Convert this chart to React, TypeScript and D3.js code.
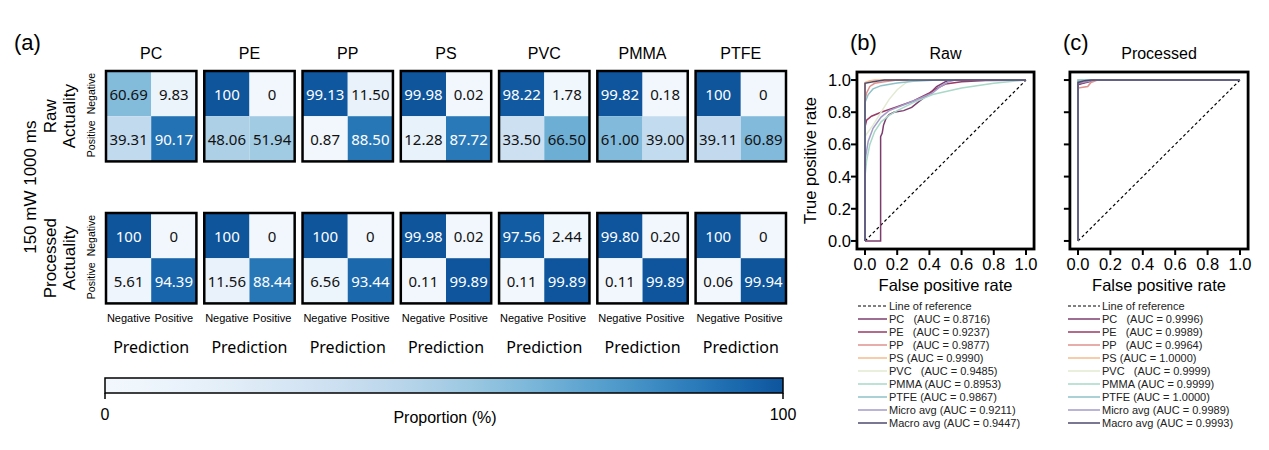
import React, { useEffect } from 'react';
import * as d3 from 'd3';

const materials = ['PC', 'PE', 'PP', 'PS', 'PVC', 'PMMA', 'PTFE'];
const classLabels = ['Negative', 'Positive'];

// confusion matrix cells: [TL, TR, BL, BR]
const rawCells = [
  ['60.69', '9.83', '39.31', '90.17'],
  ['100', '0', '48.06', '51.94'],
  ['99.13', '11.50', '0.87', '88.50'],
  ['99.98', '0.02', '12.28', '87.72'],
  ['98.22', '1.78', '33.50', '66.50'],
  ['99.82', '0.18', '61.00', '39.00'],
  ['100', '0', '39.11', '60.89'],
];
const processedCells = [
  ['100', '0', '5.61', '94.39'],
  ['100', '0', '11.56', '88.44'],
  ['100', '0', '6.56', '93.44'],
  ['99.98', '0.02', '0.11', '99.89'],
  ['97.56', '2.44', '0.11', '99.89'],
  ['99.80', '0.20', '0.11', '99.89'],
  ['100', '0', '0.06', '99.94'],
];
const colorbarTicks = [0, 100];

const legendNames = ['PC   ', 'PE   ', 'PP   ', 'PS ', 'PVC   ', 'PMMA ', 'PTFE ', 'Micro avg ', 'Macro avg '];
const rawAuc = ['0.8716', '0.9237', '0.9877', '0.9990', '0.9485', '0.8953', '0.9867', '0.9211', '0.9447'];
const processedAuc = ['0.9996', '0.9989', '0.9964', '1.0000', '0.9999', '0.9999', '1.0000', '0.9989', '0.9993'];
const curveColors = ['#7d3c6e', '#9a3a66', '#df928e', '#f6ba8e', '#e2ead2', '#a8d8c8', '#8fc2c9', '#a39cc9', '#4d4a6c'];
const rocTicks = [0, 0.2, 0.4, 0.6, 0.8, 1.0];

// ROC curves as [fpr, tpr]
const rawRoc: [number, number][][] = [
  [[0, 0], [0.097, 0], [0.097, 0.648], [0.107, 0.67], [0.115, 0.72], [0.13, 0.76], [0.15, 0.785], [0.18, 0.8], [0.24, 0.81], [0.29, 0.83], [0.34, 0.87], [0.4, 0.915], [0.445, 0.96], [0.5, 0.99], [0.53, 1], [1, 1]],
  [[0, 0], [0, 0.71], [0.01, 0.75], [0.04, 0.775], [0.1, 0.8], [0.2, 0.835], [0.3, 0.87], [0.4, 0.92], [0.45, 0.95], [0.5, 0.975], [0.6, 0.99], [0.75, 0.997], [1, 1]],
  [[0, 0], [0, 0.87], [0.01, 0.92], [0.03, 0.96], [0.06, 0.98], [0.12, 0.99], [0.2, 1], [1, 1]],
  [[0, 0], [0, 0.985], [0.03, 0.995], [0.06, 1], [1, 1]],
  [[0, 0], [0, 0.65], [0.05, 0.72], [0.1, 0.8], [0.15, 0.88], [0.2, 0.94], [0.25, 0.98], [0.28, 1], [1, 1]],
  [[0, 0], [0, 0.4], [0.01, 0.5], [0.03, 0.6], [0.06, 0.68], [0.1, 0.74], [0.15, 0.78], [0.2, 0.81], [0.3, 0.86], [0.42, 0.91], [0.6, 0.95], [0.8, 0.98], [1, 1]],
  [[0, 0], [0, 0.86], [0.02, 0.91], [0.05, 0.945], [0.1, 0.965], [0.2, 0.982], [0.3, 0.992], [0.45, 1], [1, 1]],
  [[0, 0], [0, 0.5], [0.02, 0.62], [0.05, 0.7], [0.1, 0.77], [0.15, 0.81], [0.25, 0.85], [0.35, 0.89], [0.42, 0.92], [0.47, 0.96], [0.52, 0.99], [0.56, 1], [1, 1]],
  [[0, 0], [0, 0.98], [0.05, 0.99], [0.12, 1], [1, 1]],
];
const processedRoc: [number, number][][] = [
  [[0, 0], [0, 0.97], [0.03, 0.98], [0.07, 0.99], [0.1, 1], [1, 1]],
  [[0, 0], [0, 0.975], [0.04, 0.985], [0.08, 1], [1, 1]],
  [[0, 0], [0, 0.95], [0.03, 0.955], [0.06, 0.96], [0.08, 0.985], [0.12, 1], [1, 1]],
  [[0, 0], [0, 1], [1, 1]],
  [[0, 0], [0, 0.99], [0.02, 1], [1, 1]],
  [[0, 0], [0, 0.99], [0.02, 1], [1, 1]],
  [[0, 0], [0, 1], [1, 1]],
  [[0, 0], [0, 0.98], [0.05, 0.99], [0.1, 1], [1, 1]],
  [[0, 0], [0, 0.985], [0.04, 0.995], [0.08, 1], [1, 1]],
];

const ARIAL = '"Liberation Sans", Arial, sans-serif';
const NOTO = '"Noto Sans", "Open Sans", sans-serif';

const color = d3
  .scaleSequential((t: number) => d3.interpolateBlues(0.03 + 0.83 * Math.pow(t, 1.4)))
  .domain([0, 100]);

const xBand = d3.scaleBand<string>().domain(materials).range([106, 786]).paddingInner(0.08);
const matSize = xBand.bandwidth();
const cellBand = d3.scaleBand<number>().domain([0, 1]).range([0, matSize]);
const rowTops = [71, 213];

const Matrix: React.FC<{ x: number; y: number; cells: string[] }> = ({ x, y, cells }) => (
  <g transform={`translate(${x},${y})`}>
    {cells.map((v, i) => {
      const r = Math.floor(i / 2);
      const c = i % 2;
      const val = +v;
      return (
        <g key={i}>
          <rect
            x={cellBand(c)}
            y={cellBand(r)}
            width={cellBand.bandwidth()}
            height={cellBand.bandwidth()}
            fill={color(val)}
          />
          <text
            x={(cellBand(c) || 0) + cellBand.bandwidth() / 2}
            y={(cellBand(r) || 0) + cellBand.bandwidth() / 2}
            textAnchor="middle"
            dominantBaseline="central"
            fontFamily={NOTO}
            fontSize={15}
            fill={val > 75 ? '#ffffff' : '#111111'}
          >
            {v}
          </text>
        </g>
      );
    })}
    <rect x={0} y={0} width={matSize} height={matSize} fill="none" stroke="#000" strokeWidth={2.5} />
  </g>
);

const RocPanel: React.FC<{
  x0: number;
  x1: number;
  curves: [number, number][][];
  auc: string[];
  title: string;
  tag: string;
  yLabels: boolean;
  legendLine: [number, number];
}> = ({ x0, x1, curves, auc, title, tag, yLabels, legendLine }) => {
  const unit = x1 - x0;
  const x = d3.scaleLinear().domain([-0.05, 1.05]).range([x0 - 0.05 * unit, x1 + 0.05 * unit]);
  const y = d3.scaleLinear().domain([-0.05, 1.05]).range([249, 72]);
  const line = d3
    .line<[number, number]>()
    .x((d) => x(d[0]))
    .y((d) => y(d[1]));
  const [L, R] = x.range();
  const [B, T] = y.range();
  const legendY = d3.scaleLinear().domain([0, 1]).range([306, 319]);
  return (
    <g>
      <text x={x0 - 15} y={50} fontFamily={ARIAL} fontSize={22}>
        {tag}
      </text>
      <text x={(L + R) / 2} y={59} textAnchor="middle" fontFamily={ARIAL} fontSize={16}>
        {title}
      </text>
      <line x1={x(0)} y1={y(0)} x2={x(1)} y2={y(1)} stroke="#000" strokeWidth={1.2} strokeDasharray="3,2.5" />
      {curves.map((c, i) => (
        <path key={i} d={line(c) || ''} fill="none" stroke={curveColors[i]} strokeWidth={1.5} />
      ))}
      <rect x={L} y={T} width={R - L} height={B - T} fill="none" stroke="#000" strokeWidth={2.8} />
      {rocTicks.map((t) => (
        <g key={`x${t}`}>
          <line x1={x(t)} x2={x(t)} y1={B} y2={B + 6} stroke="#000" strokeWidth={2} />
          <text x={x(t)} y={B + 21} textAnchor="middle" fontFamily={ARIAL} fontSize={16.5}>
            {t.toFixed(1)}
          </text>
        </g>
      ))}
      {rocTicks.map((t) => (
        <g key={`y${t}`}>
          <line x1={L - 6} x2={L} y1={y(t)} y2={y(t)} stroke="#000" strokeWidth={2} />
          {yLabels && (
            <text x={L - 6} y={y(t)} dy="0.36em" textAnchor="end" fontFamily={ARIAL} fontSize={16.5}>
              {t.toFixed(1)}
            </text>
          )}
        </g>
      ))}
      <text x={(x(0) + x(1)) / 2} y={B + 42} textAnchor="middle" fontFamily={ARIAL} fontSize={16.5}>
        False positive rate
      </text>
      {yLabels && (
        <text
          transform={`translate(${L - 41},${(T + B) / 2}) rotate(-90)`}
          textAnchor="middle"
          fontFamily={ARIAL}
          fontSize={16.5}
        >
          True positive rate
        </text>
      )}
      <g fontFamily={ARIAL} fontSize={11} fill="#222">
        <line x1={legendLine[0]} x2={legendLine[1]} y1={legendY(0)} y2={legendY(0)} stroke="#000" strokeWidth={1} strokeDasharray="3,2" />
        <text x={legendLine[1] + 2} y={legendY(0)} dy="0.35em">
          Line of reference
        </text>
        {legendNames.map((n, i) => (
          <g key={n}>
            <line x1={legendLine[0]} x2={legendLine[1]} y1={legendY(i + 1)} y2={legendY(i + 1)} stroke={curveColors[i]} strokeWidth={1.5} />
            <text x={legendLine[1] + 2} y={legendY(i + 1)} dy="0.35em" style={{ whiteSpace: 'pre' }}>
              {`${n}(AUC = ${auc[i]})`}
            </text>
          </g>
        ))}
      </g>
    </g>
  );
};

export default function App() {
  useEffect(() => {
    document.body.style.margin = '0';
  }, []);

  const cb = d3.scaleLinear().domain([0, 100]).range([105, 783]);
  const stops = d3.range(0, 101, 5);

  return (
    <svg width={1269} height={450} style={{ display: 'block', background: '#fff' }}>
      <defs>
        <linearGradient id="cbGrad" x1="0" x2="1" y1="0" y2="0">
          {stops.map((s) => (
            <stop key={s} offset={`${s}%`} stopColor={color(s)} />
          ))}
        </linearGradient>
      </defs>

      {/* panel (a) */}
      <text x={14} y={50} fontFamily={ARIAL} fontSize={22}>
        (a)
      </text>
      <text transform={`translate(36,${(rowTops[0] + rowTops[1] + matSize) / 2}) rotate(-90)`} textAnchor="middle" fontFamily={ARIAL} fontSize={17}>
        150 mW 1000 ms
      </text>
      {['Raw', 'Processed'].map((name, r) => (
        <g key={name}>
          <text transform={`translate(56,${rowTops[r] + matSize / 2}) rotate(-90)`} textAnchor="middle" fontFamily={ARIAL} fontSize={17}>
            {name}
          </text>
          <text transform={`translate(75,${rowTops[r] + matSize / 2}) rotate(-90)`} textAnchor="middle" fontFamily={ARIAL} fontSize={17}>
            Actuality
          </text>
          {classLabels.map((c, i) => (
            <text
              key={c}
              transform={`translate(95,${rowTops[r] + (cellBand(i) || 0) + cellBand.bandwidth() / 2}) rotate(-90)`}
              textAnchor="middle"
              fontFamily={ARIAL}
              fontSize={10.5}
            >
              {c}
            </text>
          ))}
        </g>
      ))}

      {materials.map((m, i) => {
        const mx = xBand(m) || 0;
        return (
          <g key={m}>
            <text x={mx + matSize / 2} y={59} textAnchor="middle" fontFamily={ARIAL} fontSize={16}>
              {m}
            </text>
            <Matrix x={mx} y={rowTops[0]} cells={rawCells[i]} />
            <Matrix x={mx} y={rowTops[1]} cells={processedCells[i]} />
            {classLabels.map((c, j) => (
              <text key={c} x={mx + (cellBand(j) || 0) + cellBand.bandwidth() / 2} y={322} textAnchor="middle" fontFamily={ARIAL} fontSize={11}>
                {c}
              </text>
            ))}
            <text x={mx + matSize / 2} y={353} textAnchor="middle" fontFamily={NOTO} fontSize={16}>
              Prediction
            </text>
          </g>
        );
      })}

      {/* colorbar */}
      <rect x={cb(0)} y={378} width={cb(100) - cb(0)} height={15} fill="url(#cbGrad)" stroke="#000" strokeWidth={1.5} />
      {colorbarTicks.map((t) => (
        <g key={t}>
          <line x1={cb(t)} x2={cb(t)} y1={393} y2={399} stroke="#000" strokeWidth={1.5} />
          <text x={cb(t)} y={420} textAnchor="middle" fontFamily={ARIAL} fontSize={16}>
            {t}
          </text>
        </g>
      ))}
      <text x={445} y={423} textAnchor="middle" fontFamily={ARIAL} fontSize={16}>
        Proportion (%)
      </text>

      <RocPanel x0={865} x1={1026} curves={rawRoc} auc={rawAuc} title="Raw" tag="(b)" yLabels legendLine={[858, 887]} />
      <RocPanel x0={1078} x1={1240} curves={processedRoc} auc={processedAuc} title="Processed" tag="(c)" yLabels={false} legendLine={[1068, 1100]} />
    </svg>
  );
}
